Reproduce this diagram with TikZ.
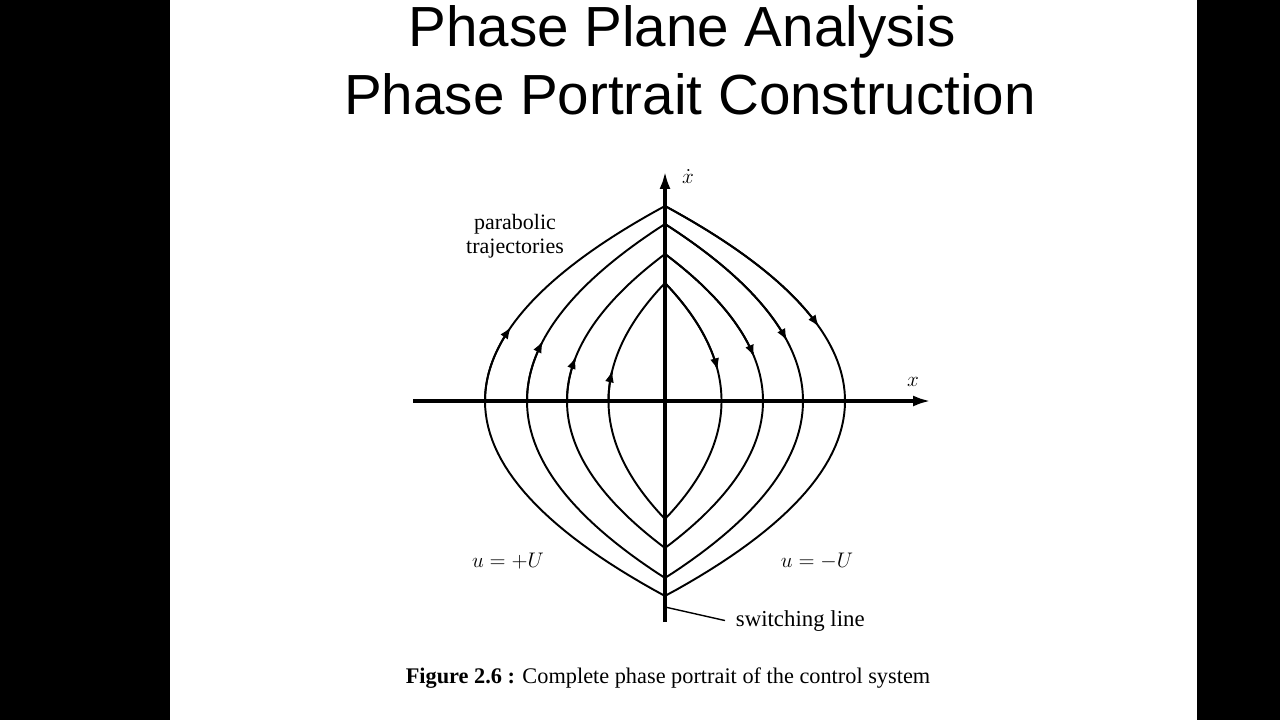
\documentclass[tikz,border=0pt]{standalone}
\usepackage{fontspec}
\setmainfont{Liberation Serif}
\newfontfamily\titlefont{Liberation Sans}
\usetikzlibrary{arrows.meta}
\begin{document}
\begin{tikzpicture}[x=0.02cm,y=-0.02cm]
\tikzstyle{every node}+=[inner sep=0pt]
\tikzstyle{axis}=[black,line width=2.2pt,-{Latex[length=3.6mm,width=2.2mm]}]
\tikzstyle{traj}=[black,line width=1.1pt]
\tikzstyle{tip}=[traj,-{Latex[length=2.4mm,width=1.8mm]}]
\tikzstyle{title}=[anchor=base,font=\titlefont\fontsize{32.2}{38}\selectfont]
\tikzstyle{lbl}=[font=\fontsize{12.5}{13.5}\selectfont]
\useasboundingbox (0,0) rectangle (1280,720);
\fill [black] (0,0) rectangle (1280,720);
\fill [white] (170,0) rectangle (1197,720);
\node (tline1) [title] at (682,46) {Phase Plane Analysis};
\node (tline2) [title] at (690,114) {Phase Portrait Construction};
\coordinate (o) at (665,401);
\coordinate (xl) at (413,401);
\coordinate (xr) at (931,401);
\coordinate (yb) at (665,622);
\coordinate (yt) at (665,171);
\begin{scope}[shift={(o)},yscale=-1]
\foreach \xa/\yh/\fr in {180/195/0.38, 138/177/0.34, 98/147/0.30, 56.5/118/0.26} {
  \draw [traj] plot [domain=0:1,samples=40] ({-\xa*(1-\x*\x)},{\yh*\x});
  \draw [tip] plot [domain=0:\fr,samples=20] ({-\xa*(1-\x*\x)},{\yh*\x});
  \draw [traj] plot [domain=1:0,samples=40] ({\xa*(1-\x*\x)},{\yh*\x});
  \draw [tip] plot [domain=1:\fr,samples=30] ({\xa*(1-\x*\x)},{\yh*\x});
  \draw [traj] plot [domain=-1:1,samples=61] ({\xa*(2*\x-\x*abs(\x))},{-\yh*(1-abs(\x))});
}
\end{scope}
\draw [axis] (xl) -- (xr);
\draw [axis] (yb) -- (yt);
\node (xdot) [lbl] at (688,177) {$\dot{x}$};
\node (xlab) [lbl] at (913,382) {$x$};
\node (para) [lbl,align=center] at (515,236) {parabolic\\trajectories};
\node (uplus) [lbl] at (508,561) {$u = +U$};
\node (uminus) [lbl] at (817,561) {$u = -U$};
\node (swlab) [anchor=base west,inner xsep=6pt,font=\fontsize{13}{14}\selectfont] at (725,626) {switching line};
\coordinate (swpt) at (665,607);
\draw [black,line width=0.8pt] (swpt) -- (swlab.west);
\node (caption) [anchor=base,font=\fontsize{12.7}{14}\selectfont] at (668,683) {\textbf{Figure 2.6 :} Complete phase portrait of the control system};
\end{tikzpicture}
\end{document}
